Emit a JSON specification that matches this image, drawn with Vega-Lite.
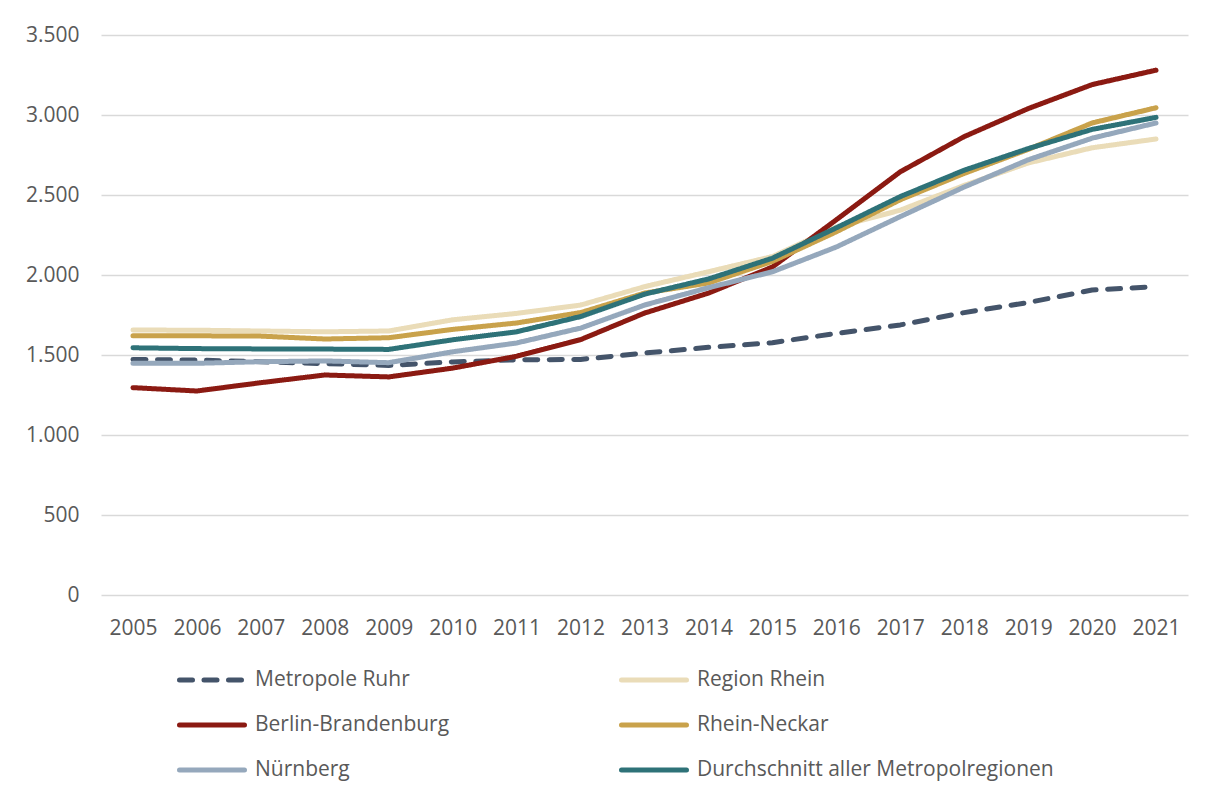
{
  "$schema": "https://vega.github.io/schema/vega-lite/v6.json",
  "width": 1087,
  "height": 560,
  "autosize": {"type": "none"},
  "padding": {"left": 101, "top": 35, "right": 25, "bottom": 203},
  "background": "white",
  "datasets": {
    "d": [
      {"s": "Metropole Ruhr", "y": "2005", "v": 1472},
      {"s": "Metropole Ruhr", "y": "2006", "v": 1468},
      {"s": "Metropole Ruhr", "y": "2007", "v": 1458},
      {"s": "Metropole Ruhr", "y": "2008", "v": 1446},
      {"s": "Metropole Ruhr", "y": "2009", "v": 1435},
      {"s": "Metropole Ruhr", "y": "2010", "v": 1457},
      {"s": "Metropole Ruhr", "y": "2011", "v": 1470},
      {"s": "Metropole Ruhr", "y": "2012", "v": 1472},
      {"s": "Metropole Ruhr", "y": "2013", "v": 1512},
      {"s": "Metropole Ruhr", "y": "2014", "v": 1548},
      {"s": "Metropole Ruhr", "y": "2015", "v": 1577},
      {"s": "Metropole Ruhr", "y": "2016", "v": 1635},
      {"s": "Metropole Ruhr", "y": "2017", "v": 1688},
      {"s": "Metropole Ruhr", "y": "2018", "v": 1765},
      {"s": "Metropole Ruhr", "y": "2019", "v": 1828},
      {"s": "Metropole Ruhr", "y": "2020", "v": 1906},
      {"s": "Metropole Ruhr", "y": "2021", "v": 1927},
      {"s": "Region Rhein", "y": "2005", "v": 1656},
      {"s": "Region Rhein", "y": "2006", "v": 1655},
      {"s": "Region Rhein", "y": "2007", "v": 1650},
      {"s": "Region Rhein", "y": "2008", "v": 1645},
      {"s": "Region Rhein", "y": "2009", "v": 1650},
      {"s": "Region Rhein", "y": "2010", "v": 1720},
      {"s": "Region Rhein", "y": "2011", "v": 1760},
      {"s": "Region Rhein", "y": "2012", "v": 1812},
      {"s": "Region Rhein", "y": "2013", "v": 1927},
      {"s": "Region Rhein", "y": "2014", "v": 2020},
      {"s": "Region Rhein", "y": "2015", "v": 2115},
      {"s": "Region Rhein", "y": "2016", "v": 2300},
      {"s": "Region Rhein", "y": "2017", "v": 2405},
      {"s": "Region Rhein", "y": "2018", "v": 2560},
      {"s": "Region Rhein", "y": "2019", "v": 2700},
      {"s": "Region Rhein", "y": "2020", "v": 2795},
      {"s": "Region Rhein", "y": "2021", "v": 2850},
      {"s": "Berlin-Brandenburg", "y": "2005", "v": 1296},
      {"s": "Berlin-Brandenburg", "y": "2006", "v": 1275},
      {"s": "Berlin-Brandenburg", "y": "2007", "v": 1327},
      {"s": "Berlin-Brandenburg", "y": "2008", "v": 1375},
      {"s": "Berlin-Brandenburg", "y": "2009", "v": 1363},
      {"s": "Berlin-Brandenburg", "y": "2010", "v": 1418},
      {"s": "Berlin-Brandenburg", "y": "2011", "v": 1492},
      {"s": "Berlin-Brandenburg", "y": "2012", "v": 1596},
      {"s": "Berlin-Brandenburg", "y": "2013", "v": 1762},
      {"s": "Berlin-Brandenburg", "y": "2014", "v": 1887},
      {"s": "Berlin-Brandenburg", "y": "2015", "v": 2050},
      {"s": "Berlin-Brandenburg", "y": "2016", "v": 2345},
      {"s": "Berlin-Brandenburg", "y": "2017", "v": 2645},
      {"s": "Berlin-Brandenburg", "y": "2018", "v": 2865},
      {"s": "Berlin-Brandenburg", "y": "2019", "v": 3040},
      {"s": "Berlin-Brandenburg", "y": "2020", "v": 3190},
      {"s": "Berlin-Brandenburg", "y": "2021", "v": 3280},
      {"s": "Rhein-Neckar", "y": "2005", "v": 1620},
      {"s": "Rhein-Neckar", "y": "2006", "v": 1620},
      {"s": "Rhein-Neckar", "y": "2007", "v": 1618},
      {"s": "Rhein-Neckar", "y": "2008", "v": 1600},
      {"s": "Rhein-Neckar", "y": "2009", "v": 1608},
      {"s": "Rhein-Neckar", "y": "2010", "v": 1660},
      {"s": "Rhein-Neckar", "y": "2011", "v": 1700},
      {"s": "Rhein-Neckar", "y": "2012", "v": 1765},
      {"s": "Rhein-Neckar", "y": "2013", "v": 1887},
      {"s": "Rhein-Neckar", "y": "2014", "v": 1950},
      {"s": "Rhein-Neckar", "y": "2015", "v": 2085},
      {"s": "Rhein-Neckar", "y": "2016", "v": 2270},
      {"s": "Rhein-Neckar", "y": "2017", "v": 2470},
      {"s": "Rhein-Neckar", "y": "2018", "v": 2635},
      {"s": "Rhein-Neckar", "y": "2019", "v": 2785},
      {"s": "Rhein-Neckar", "y": "2020", "v": 2950},
      {"s": "Rhein-Neckar", "y": "2021", "v": 3045},
      {"s": "Nürnberg", "y": "2005", "v": 1448},
      {"s": "Nürnberg", "y": "2006", "v": 1448},
      {"s": "Nürnberg", "y": "2007", "v": 1458},
      {"s": "Nürnberg", "y": "2008", "v": 1463},
      {"s": "Nürnberg", "y": "2009", "v": 1452},
      {"s": "Nürnberg", "y": "2010", "v": 1520},
      {"s": "Nürnberg", "y": "2011", "v": 1575},
      {"s": "Nürnberg", "y": "2012", "v": 1668},
      {"s": "Nürnberg", "y": "2013", "v": 1812},
      {"s": "Nürnberg", "y": "2014", "v": 1920},
      {"s": "Nürnberg", "y": "2015", "v": 2020},
      {"s": "Nürnberg", "y": "2016", "v": 2175},
      {"s": "Nürnberg", "y": "2017", "v": 2365},
      {"s": "Nürnberg", "y": "2018", "v": 2550},
      {"s": "Nürnberg", "y": "2019", "v": 2720},
      {"s": "Nürnberg", "y": "2020", "v": 2855},
      {"s": "Nürnberg", "y": "2021", "v": 2950},
      {"s": "Durchschnitt aller Metropolregionen", "y": "2005", "v": 1545},
      {"s": "Durchschnitt aller Metropolregionen", "y": "2006", "v": 1540},
      {"s": "Durchschnitt aller Metropolregionen", "y": "2007", "v": 1538},
      {"s": "Durchschnitt aller Metropolregionen", "y": "2008", "v": 1537},
      {"s": "Durchschnitt aller Metropolregionen", "y": "2009", "v": 1535},
      {"s": "Durchschnitt aller Metropolregionen", "y": "2010", "v": 1595},
      {"s": "Durchschnitt aller Metropolregionen", "y": "2011", "v": 1645},
      {"s": "Durchschnitt aller Metropolregionen", "y": "2012", "v": 1740},
      {"s": "Durchschnitt aller Metropolregionen", "y": "2013", "v": 1880},
      {"s": "Durchschnitt aller Metropolregionen", "y": "2014", "v": 1975},
      {"s": "Durchschnitt aller Metropolregionen", "y": "2015", "v": 2105},
      {"s": "Durchschnitt aller Metropolregionen", "y": "2016", "v": 2295},
      {"s": "Durchschnitt aller Metropolregionen", "y": "2017", "v": 2490},
      {"s": "Durchschnitt aller Metropolregionen", "y": "2018", "v": 2655},
      {"s": "Durchschnitt aller Metropolregionen", "y": "2019", "v": 2790},
      {"s": "Durchschnitt aller Metropolregionen", "y": "2020", "v": 2910},
      {"s": "Durchschnitt aller Metropolregionen", "y": "2021", "v": 2985}
    ]
  },
  "data": {"name": "d"},
  "mark": {"type": "line", "strokeWidth": 5, "strokeCap": "round", "strokeJoin": "round"},
  "encoding": {
    "x": {
      "field": "y", "type": "ordinal",
      "scale": {"type": "point", "padding": 0.5},
      "axis": {"title": null, "labelAngle": 0, "ticks": false, "domain": false, "grid": false, "labelPadding": 22}
    },
    "y": {
      "field": "v", "type": "quantitative",
      "scale": {"domain": [0, 3500], "nice": false},
      "axis": {"title": null, "values": [0, 500, 1000, 1500, 2000, 2500, 3000, 3500], "format": ",d", "ticks": false, "domain": false, "labelPadding": 22, "gridColor": "#d9d9d9", "gridWidth": 1.5}
    },
    "color": {
      "field": "s", "type": "nominal",
      "scale": {
        "domain": ["Metropole Ruhr", "Region Rhein", "Berlin-Brandenburg", "Rhein-Neckar", "Nürnberg", "Durchschnitt aller Metropolregionen"],
        "range": ["#44546a", "#eadcb8", "#8b1a12", "#c9a24b", "#95a8bc", "#2e7278"]
      },
      "legend": {
        "title": null, "orient": "none", "legendX": 76, "legendY": 610,
        "direction": "horizontal", "columns": 2, "columnPadding": 161, "rowPadding": -21,
        "symbolType": "stroke", "symbolSize": 4225, "symbolStrokeWidth": 5, "labelOffset": 8,
        "labelFontSize": 21, "labelColor": "#595959", "labelFont": "Open Sans", "labelLimit": 500,
        "encode": {"symbols": {"update": {"strokeCap": {"value": "round"}}}}
      }
    },
    "strokeDash": {
      "field": "s", "type": "nominal",
      "scale": {
        "domain": ["Metropole Ruhr", "Region Rhein", "Berlin-Brandenburg", "Rhein-Neckar", "Nürnberg", "Durchschnitt aller Metropolregionen"],
        "range": [[13, 11.5], [1, 0], [1, 0], [1, 0], [1, 0], [1, 0]]
      },
      "legend": null
    }
  },
  "config": {
    "font": "Open Sans",
    "locale": {"number": {"decimal": ",", "thousands": ".", "grouping": [3], "currency": ["", " €"]}},
    "axis": {"labelFontSize": 21, "labelColor": "#595959", "labelFont": "Open Sans"},
    "view": {"stroke": null}
  }
}
